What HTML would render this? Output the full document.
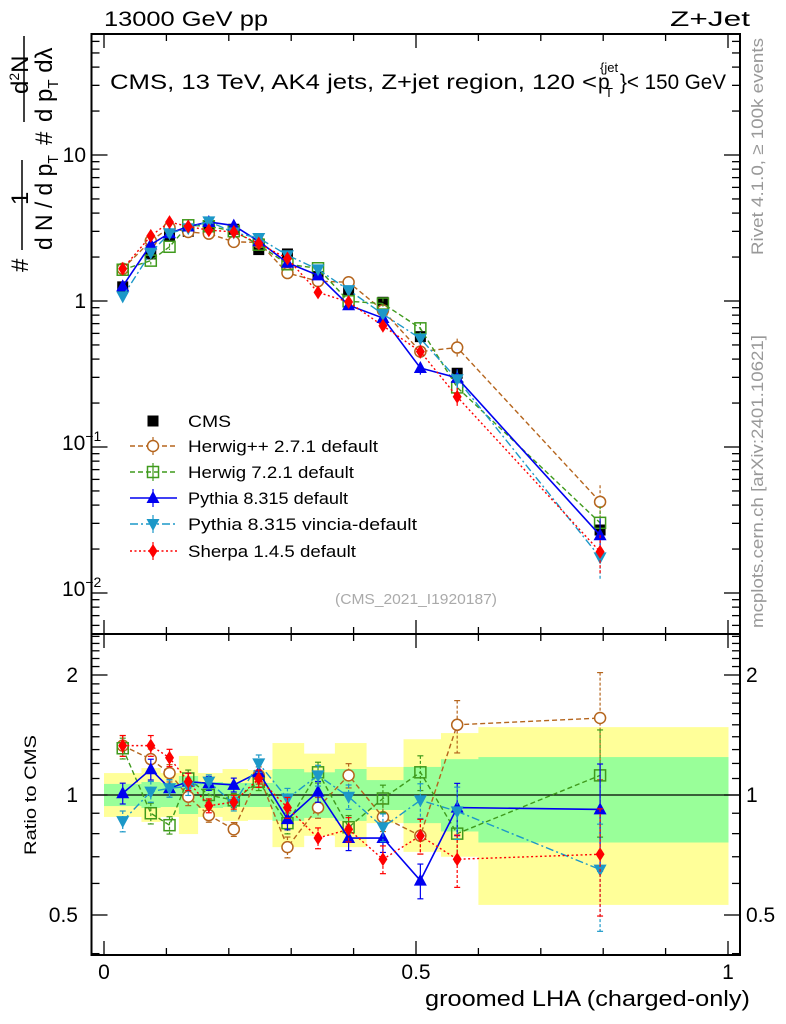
<!DOCTYPE html>
<html><head><meta charset="utf-8">
<style>
html,body{margin:0;padding:0;background:#fff;}
svg{display:block;font-family:"Liberation Sans",sans-serif;}
</style></head>
<body>
<svg id="c" width="786" height="1024" viewBox="0 0 786 1024" xmlns="http://www.w3.org/2000/svg">
<text x="104" y="26" font-size="21" textLength="164" lengthAdjust="spacingAndGlyphs">13000 GeV pp</text>
<text x="670" y="26" font-size="21" textLength="80" lengthAdjust="spacingAndGlyphs">Z+Jet</text>
<g font-size="21">
<text x="110" y="89" textLength="487" lengthAdjust="spacingAndGlyphs">CMS, 13 TeV, AK4 jets, Z+jet region, 120 &lt;</text>
<text x="598" y="89">p</text>
<text x="605" y="97" font-size="13">T</text>
<text x="600" y="72" font-size="13">{jet</text>
<text x="620" y="89" textLength="106" lengthAdjust="spacingAndGlyphs">}&lt; 150 GeV</text>
</g>
<text transform="translate(763,255) rotate(-90)" font-size="17" fill="#999" textLength="217" lengthAdjust="spacingAndGlyphs">Rivet 4.1.0, ≥ 100k events</text>
<text transform="translate(763,628) rotate(-90)" font-size="17" fill="#999" textLength="293" lengthAdjust="spacingAndGlyphs">mcplots.cern.ch [arXiv:2401.10621]</text>
<text x="416" y="604" font-size="15" fill="#aaa" text-anchor="middle" textLength="162" lengthAdjust="spacingAndGlyphs">(CMS_2021_I1920187)</text>
<g font-size="24">
  <text transform="translate(28,272) rotate(-90)">#</text>
  <text transform="translate(28,205) rotate(-90)">1</text>
  <line x1="22" y1="160" x2="22" y2="250" stroke="#000" stroke-width="1.5"/>
  <text transform="translate(52,250) rotate(-90)" textLength="95" lengthAdjust="spacingAndGlyphs">d N / d p<tspan font-size="15" dy="6">T</tspan></text>
  <text transform="translate(52,145) rotate(-90)">#</text>
  <line x1="24" y1="36" x2="24" y2="122" stroke="#000" stroke-width="1.5"/>
  <text transform="translate(28,94) rotate(-90)">d<tspan font-size="14" dy="-9">2</tspan><tspan dy="9">N</tspan></text>
  <text transform="translate(52,122) rotate(-90)">d p<tspan font-size="15" dy="6">T</tspan><tspan dy="-6"> dλ</tspan></text>
</g>
<text transform="translate(36,795) rotate(-90)" font-size="17" text-anchor="middle" textLength="120" lengthAdjust="spacingAndGlyphs">Ratio to CMS</text>
<text x="750" y="1006" font-size="22" text-anchor="end" textLength="325" lengthAdjust="spacingAndGlyphs">groomed LHA (charged-only)</text>
<g id="plot"></g>
</svg>
<script>
const binLo = [0, 0.06, 0.09, 0.12, 0.15, 0.19, 0.23, 0.27, 0.32, 0.37, 0.42, 0.48, 0.54, 0.6];
const binHi = [0.06, 0.09, 0.12, 0.15, 0.19, 0.23, 0.27, 0.32, 0.37, 0.42, 0.48, 0.54, 0.6, 1.0];
const xPts = [0.03, 0.075, 0.105, 0.135, 0.168, 0.208, 0.248, 0.294, 0.343, 0.392, 0.447, 0.507, 0.566, 0.795];
const cmsVals = [1.25, 2.1, 2.8, 3.0, 3.25, 3.1, 2.25, 2.1, 1.47, 1.2, 0.98, 0.57, 0.32, 0.027];
const statHi = [1.066, 1.078, 1.072, 1.116, 1.078, 1.072, 1.072, 1.162, 1.14, 1.162, 1.09, 1.176, 1.23, 1.245];
const statLo = [0.938, 0.928, 0.933, 0.896, 0.928, 0.933, 0.933, 0.861, 0.876, 0.861, 0.917, 0.85, 0.81, 0.76];
const totHi = [1.135, 1.169, 1.135, 1.253, 1.135, 1.162, 1.155, 1.35, 1.27, 1.35, 1.176, 1.38, 1.43, 1.48];
const totLo = [0.881, 0.856, 0.881, 0.798, 0.881, 0.861, 0.866, 0.74, 0.79, 0.74, 0.85, 0.72, 0.70, 0.53];
const ratioHerwigpp = [1.33, 1.23, 1.135, 0.99, 0.89, 0.82, 1.12, 0.74, 0.93, 1.12, 0.88, 0.79, 1.5, 1.56];
const ratioHerwig7 = [1.31, 0.9, 0.84, 1.10, 1.0, 0.97, 1.08, 0.85, 1.14, 0.83, 0.98, 1.14, 0.8, 1.12];
const ratioPythia = [1.01, 1.16, 1.04, 1.08, 1.07, 1.06, 1.14, 0.87, 1.02, 0.78, 0.78, 0.61, 0.93, 0.92];
const ratioVincia = [0.86, 1.02, 1.04, 1.05, 1.08, 0.95, 1.2, 0.98, 1.12, 0.99, 0.83, 0.97, 0.91, 0.65];
const ratioSherpa = [1.33, 1.33, 1.24, 1.08, 0.94, 0.96, 1.10, 0.93, 0.78, 0.82, 0.69, 0.79, 0.69, 0.71];
const mcRelErr = [0.06, 0.06, 0.05, 0.05, 0.04, 0.04, 0.05, 0.06, 0.06, 0.07, 0.08, 0.1, 0.15, 0.3];
const seriesNames = ["Herwig++ 2.7.1 default", "Herwig 7.2.1 default", "Pythia 8.315 default", "Pythia 8.315 vincia-default", "Sherpa 1.4.5 default"];
const mainTicks = [0.01, 0.1, 1, 10];
const mainTickLabels = ["10^-2", "10^-1", "1", "10"];
const ratioTicks = [0.5, 1, 2];
const ratioTickLabels = ["0.5", "1", "2"];
const xTicks = [0, 0.5, 1];
const xTickLabels = ["0", "0.5", "1"];

const NS = "http://www.w3.org/2000/svg";
const L = 91.5, R = 740, T = 34, MB = 634, RB = 955;
const X = v => 104 + v * 624;
const Ym = v => 301 - 146 * Math.log10(v);
const Yr = r => 795 - 120 * Math.log2(r);
const g = document.getElementById('plot');
function mk(tag, attrs, parent) {
  const e = document.createElementNS(NS, tag);
  for (const k in attrs) e.setAttribute(k, attrs[k]);
  (parent || g).appendChild(e);
  return e;
}
const styles = [
  {c: "#b5651d", d: "5,3", m: "circle"},
  {c: "#3f9a1c", d: "5,3", m: "square"},
  {c: "#0000f0", d: "", m: "tri-up"},
  {c: "#1c98c8", d: "8,3,2,3", m: "tri-down"},
  {c: "#ff0000", d: "2,2.5", m: "diamond"}
];
const ratios = [ratioHerwigpp, ratioHerwig7, ratioPythia, ratioVincia, ratioSherpa];
const serNames = ["herwigpp", "herwig7", "pythia", "vincia", "sherpa"];

function marker(type, x, y, col, parent) {
  let e;
  if (type === "circle") e = mk('circle', {cx: x, cy: y, r: 5.5, fill: "#fff", stroke: col, "stroke-width": 1.5}, parent);
  else if (type === "square") e = mk('rect', {x: x - 5.5, y: y - 5.5, width: 11, height: 11, fill: "#fff", "fill-opacity": 0, stroke: col, "stroke-width": 1.5}, parent);
  else if (type === "tri-up") e = mk('polygon', {points: `${x},${y - 7} ${x - 6.5},${y + 5} ${x + 6.5},${y + 5}`, fill: col}, parent);
  else if (type === "tri-down") e = mk('polygon', {points: `${x},${y + 7} ${x - 6.5},${y - 5} ${x + 6.5},${y - 5}`, fill: col}, parent);
  else if (type === "diamond") e = mk('polygon', {points: `${x},${y - 7} ${x + 4.5},${y} ${x},${y + 7} ${x - 4.5},${y}`, fill: col}, parent);
  else e = mk('rect', {x: x - 5.5, y: y - 5.5, width: 11, height: 11, fill: col}, parent);
  return e;
}

const bandG = mk('g', {});


for (let i = 0; i < binLo.length; i++) {
  const y1 = mk('rect', {x: X(binLo[i]), y: Yr(totHi[i]), width: X(binHi[i]) - X(binLo[i]) + 0.5, height: Yr(totLo[i]) - Yr(totHi[i]), fill: "#ffff99"}, bandG);
  
  
}
for (let i = 0; i < binLo.length; i++) {
  const g1 = mk('rect', {x: X(binLo[i]), y: Yr(statHi[i]), width: X(binHi[i]) - X(binLo[i]) + 0.5, height: Yr(statLo[i]) - Yr(statHi[i]), fill: "#99ff99"}, bandG);
  
  
}
const one = mk('line', {x1: L, x2: R, y1: Yr(1), y2: Yr(1), stroke: "#000", "stroke-width": 1.3});



const cmsG = mk('g', {});


for (let i = 0; i < cmsVals.length; i++) {
  const m = marker("sq-filled", X(xPts[i]), Ym(cmsVals[i]), "#000", cmsG);
  
  
}

for (let s = 0; s < 5; s++) {
  const st = styles[s];
  const sg = mk('g', {});
  
  
  const mainPts = [], ratPts = [];
  for (let i = 0; i < xPts.length; i++) {
    const v = cmsVals[i] * ratios[s][i];
    mainPts.push(X(xPts[i]) + "," + Ym(v));
    ratPts.push(X(xPts[i]) + "," + Yr(ratios[s][i]));
  }
  const a = {fill: "none", stroke: st.c, "stroke-width": st.m === "tri-up" ? 1.6 : 1.4};
  if (st.d) a["stroke-dasharray"] = st.d;
  const l1 = mk('polyline', Object.assign({points: mainPts.join(" ")}, a), sg);
  
  
  const l2 = mk('polyline', Object.assign({points: ratPts.join(" ")}, a), sg);
  
  
  for (let i = 0; i < xPts.length; i++) {
    const v = cmsVals[i] * ratios[s][i], r = ratios[s][i], e = mcRelErr[i];
    const x = X(xPts[i]);
    const eb = {stroke: st.c, "stroke-width": 1.2};
    if (st.d) eb["stroke-dasharray"] = "3,2";
    mk('line', Object.assign({x1: x, x2: x, y1: Ym(v * (1 + e)), y2: Ym(v * (1 - e))}, eb), sg);
    mk('line', Object.assign({x1: x, x2: x, y1: Yr(r * (1 + e)), y2: Yr(r * (1 - e))}, eb), sg);
    mk('line', {x1: x - 3, x2: x + 3, y1: Yr(r * (1 + e)), y2: Yr(r * (1 + e)), stroke: st.c, "stroke-width": 1.2}, sg);
    mk('line', {x1: x - 3, x2: x + 3, y1: Yr(r * (1 - e)), y2: Yr(r * (1 - e)), stroke: st.c, "stroke-width": 1.2}, sg);
    const m1 = marker(st.m, x, Ym(v), st.c, sg);
    
    
    const m2 = marker(st.m, x, Yr(r), st.c, sg);
    
    
  }
}

const fr1 = mk('rect', {x: L, y: T, width: R - L, height: MB - T, fill: "none", stroke: "#000", "stroke-width": 2});


const fr2 = mk('rect', {x: L, y: MB, width: R - L, height: RB - MB, fill: "none", stroke: "#000", "stroke-width": 2});



function tick(x1, y1, x2, y2) { mk('line', {x1, y1, x2, y2, stroke: "#000", "stroke-width": 1.3}); }
for (let k = 0; k <= 10; k++) {
  const x = X(k / 10), len = (k % 5 === 0) ? 14 : 7;
  tick(x, MB, x, MB - len); tick(x, T, x, T + len);
  tick(x, RB, x, RB - len); tick(x, MB, x, MB + len);
}
for (let i = 0; i < xTicks.length; i++) {
  const t = mk('text', {x: X(xTicks[i]), y: 979, "font-size": 21, "text-anchor": "middle"});
  t.textContent = xTickLabels[i];
  
  
}
for (let d = -3; d <= 1; d++) {
  for (let m = 1; m <= 9; m++) {
    const v = m * Math.pow(10, d), y = Ym(v);
    if (y < T || y > MB) continue;
    const len = m === 1 ? 16 : 8;
    tick(L, y, L + len, y); tick(R, y, R - len, y);
  }
}
for (let i = 0; i < mainTicks.length; i++) {
  const y = Ym(mainTicks[i]);
  const t = mk('text', {x: 86, y: y + 7, "font-size": 21, "text-anchor": "end"});
  const parts = mainTickLabels[i].split("^");
  if (parts.length === 2) {
    t.textContent = parts[0];
    const sp = document.createElementNS(NS, 'tspan');
    sp.setAttribute('font-size', 14); sp.setAttribute('dy', -9);
    sp.textContent = parts[1].replace("-", "−");
    t.appendChild(sp);
    t.setAttribute('x', 62); t.setAttribute('text-anchor', 'start');
    t.setAttribute('y', y + 3);
  } else t.textContent = parts[0];
  
  
}
const rMinor = [0.4, 0.5, 0.6, 0.7, 0.8, 0.9, 1.0, 1.1, 1.2, 1.3, 1.4, 1.5, 1.6, 1.7, 1.8, 1.9, 2.0, 2.1, 2.2, 2.3, 2.4, 2.5];
for (const r of rMinor) {
  const y = Yr(r);
  if (y < MB || y > RB) continue;
  const len = ratioTicks.includes(r) ? 16 : 8;
  tick(L, y, L + len, y); tick(R, y, R - len, y);
}
for (let i = 0; i < ratioTicks.length; i++) {
  const y = Yr(ratioTicks[i]);
  const t = mk('text', {x: 78, y: y + 7, "font-size": 21, "text-anchor": "end"});
  t.textContent = ratioTickLabels[i];
  
  
  const t2 = mk('text', {x: 746, y: y + 7, "font-size": 21});
  t2.textContent = ratioTickLabels[i];
  
  
}

const lg = mk('g', {});


const legY = [421, 446, 472, 498, 524, 551];
const legW = [43, 190, 166, 160, 229, 168];
{
  marker("sq-filled", 153, legY[0], "#000", lg);
  const t = mk('text', {x: 188, y: legY[0] + 6, "font-size": 17, textLength: legW[0], lengthAdjust: "spacingAndGlyphs"}, lg);
  t.textContent = "CMS";
  
  
}
for (let s = 0; s < 5; s++) {
  const st = styles[s], y = legY[s + 1];
  const a = {x1: 130, x2: 177, y1: y, y2: y, stroke: st.c, "stroke-width": 1.4};
  if (st.d) a["stroke-dasharray"] = st.d;
  mk('line', a, lg);
  mk('line', {x1: 153, x2: 153, y1: y - 9, y2: y + 9, stroke: st.c, "stroke-width": 1.2}, lg);
  marker(st.m, 153, y, st.c, lg);
  const t = mk('text', {x: 188, y: y + 6, "font-size": 17, textLength: legW[s + 1], lengthAdjust: "spacingAndGlyphs"}, lg);
  t.textContent = seriesNames[s];
  
  
}
</script>
</body></html>
